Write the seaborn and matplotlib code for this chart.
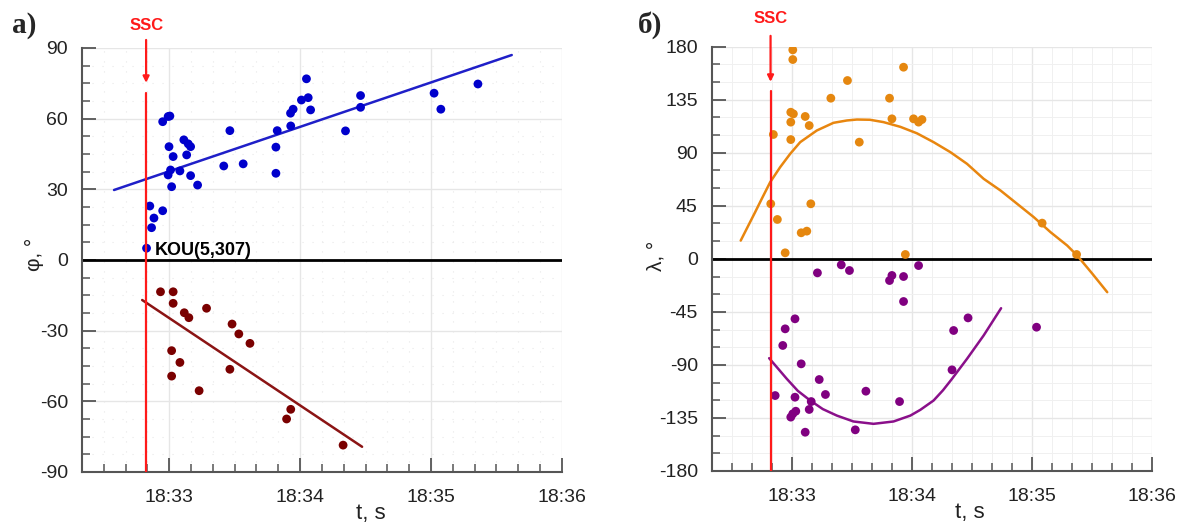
import numpy as np
import pandas as pd
import seaborn as sns
import matplotlib.pyplot as plt
from matplotlib.ticker import MultipleLocator, FixedLocator, FixedFormatter

# time in seconds after 18:32:00
tick_pos = [60, 120, 180, 240]
tick_lbl = ['18:33', '18:34', '18:35', '18:36']
ssc_t = 49.4

# a) latitude phi
t_north = [49.6, 51.1, 53.0, 51.9, 57.0, 57.0, 59.5, 60.3, 59.9, 59.5, 60.6, 61.1, 61.8,
           64.9, 66.7, 68.0, 68.7, 69.8, 69.8, 73.0, 85.0, 87.8, 93.9, 108.9, 108.9,
           109.5, 115.7, 115.6, 116.8, 120.6, 123.7, 122.9, 124.8, 140.8, 147.7, 147.7,
           181.4, 184.5, 201.5]
phi_north = [5, 22.9, 17.8, 13.7, 20.9, 58.7, 60.9, 61.1, 48.1, 36.1, 38.2, 31.1, 43.9,
             37.8, 51.0, 44.6, 49.3, 48.1, 35.8, 31.8, 39.9, 54.9, 40.8, 47.9, 36.8,
             54.9, 56.9, 62.3, 64.0, 67.9, 68.9, 76.9, 63.7, 54.8, 69.8, 64.8,
             70.8, 64.0, 74.7]
t_south = [56.0, 61.8, 61.8, 66.9, 69.0, 77.1, 61.1, 64.9, 61.1, 73.7, 88.8, 91.9, 97.0,
           87.8, 113.8, 115.7, 139.7]
phi_south = [-13.5, -13.5, -18.4, -22.4, -24.5, -20.5, -38.5, -43.5, -49.3, -55.5, -27.2,
             -31.4, -35.4, -46.4, -67.5, -63.4, -78.6]
t_fit_north = [34.7, 217.0]
phi_fit_north = [29.7, 87.0]
t_fit_south = [47.6, 148.4]
phi_fit_south = [-17.0, -79.3]

# б) longitude lambda
t_east = [60.5, 60.5, 50.8, 59.5, 60.8, 59.5, 59.5, 66.7, 68.7, 79.5, 87.8, 93.7, 108.8,
          110.0, 115.8, 49.5, 52.8, 69.5, 64.7, 67.5, 56.7, 116.7, 120.8, 123.3, 125.0,
          185.0, 202.2]
lam_east = [177.3, 169.1, 105.5, 124.4, 123.0, 116.0, 101.2, 120.8, 113.1, 136.3, 151.3,
            99.0, 136.3, 118.8, 162.6, 46.7, 33.4, 46.7, 22.1, 23.5, 5.1, 3.7, 118.8,
            116.0, 118.2, 30.3, 3.7]
t_west = [72.8, 84.7, 88.8, 108.8, 110.0, 115.8, 115.8, 123.3, 61.6, 56.7, 55.5, 64.7,
          73.7, 76.8, 51.7, 61.6, 69.7, 68.7, 62.0, 60.5, 59.5, 66.7, 91.7, 97.0, 113.8,
          140.0, 140.8, 148.0, 182.2]
lam_west = [-11.9, -5.1, -9.9, -18.4, -14.1, -15.0, -36.2, -5.7, -50.9, -59.4, -73.5,
            -89.1, -102.4, -115.1, -116.0, -117.4, -121.1, -127.8, -129.3, -131.5, -134.3,
            -147.1, -145.1, -112.3, -121.1, -94.2, -60.8, -50.1, -58.0]
t_fit_east = [34.5, 41.7, 45.0, 49.2, 54.2, 59.2, 64.2, 72.5, 80.8, 87.5, 92.5, 99.0,
              105.8, 114.2, 122.5, 130.8, 139.2, 147.5, 155.8, 164.2, 172.5, 180.8,
              189.2, 197.5, 202.5, 210.0, 217.5]
lam_fit_east = [15.5, 39.6, 50.9, 65.0, 77.8, 89.1, 99.0, 108.9, 115.4, 117.4, 118.2, 118.0,
                116.0, 112.0, 106.5, 99.0, 90.5, 80.6, 67.9, 58.0, 46.7, 35.4,
                22.6, 11.3, 2.8, -12.5, -28.3]
t_fit_west = [48.7, 57.5, 63.0, 69.2, 75.5, 82.5, 90.8, 100.8, 110.8, 119.2, 124.2, 130.8,
              135.5, 140.0, 147.5, 155.8, 164.5]
lam_fit_west = [-84.3, -101.8, -112.0, -120.2, -127.5, -133.0, -138.0, -140.0, -138.0,
                -133.0, -128.1, -120.2, -111.5, -101.8, -84.8, -65.0, -41.9]

sns.set_style('white')
plt.rcParams['font.family'] = ['Liberation Sans', 'DejaVu Sans']
plt.rcParams['axes.unicode_minus'] = False

fig = plt.figure(figsize=(11.81, 5.27), dpi=100)
ax1 = fig.add_axes([0.0694, 0.1044, 0.4064, 0.8046])
ax2 = fig.add_axes([0.6026, 0.1063, 0.3731, 0.8051])


def style_axes(ax, ylim, ymajor, yminor, minor_grid):
    ax.set_xlim(20, 240)
    ax.set_ylim(*ylim)
    ax.xaxis.set_major_locator(FixedLocator(tick_pos))
    ax.xaxis.set_major_formatter(FixedFormatter(tick_lbl))
    ax.xaxis.set_minor_locator(MultipleLocator(10))
    ax.yaxis.set_major_locator(MultipleLocator(ymajor))
    ax.yaxis.set_minor_locator(MultipleLocator(yminor))
    for s in ['top', 'right']:
        ax.spines[s].set_visible(False)
    for s in ['left', 'bottom']:
        ax.spines[s].set_color('#555555')
        ax.spines[s].set_linewidth(1.5)
    ax.tick_params(which='both', bottom=True, left=True, top=False, right=False)
    ax.tick_params(which='major', direction='in', length=10, width=1.3, color='#555555',
                   labelcolor='#222222', labelsize=14)
    ax.tick_params(which='minor', direction='in', length=6, width=1.1, color='#555555')
    ax.tick_params(axis='x', which='major', pad=12)
    ax.tick_params(axis='y', which='major', pad=10)
    ax.grid(True, which='major', color='#e6e6e6', lw=1.0)
    if minor_grid:
        ax.grid(True, which='minor', color='#f0f0f0', lw=0.7)
    else:
        ax.grid(True, which='minor', color='#e8e8e8', lw=0.8, ls=(0, (1, 8)))
    ax.set_axisbelow(True)


style_axes(ax1, (-90, 90), 30, 7.5, False)
style_axes(ax2, (-180, 180), 45, 15, True)

# panel a
ax1.axhline(0, color='black', lw=2, zorder=2)
sns.lineplot(x=t_fit_north, y=phi_fit_north, color='#1f1fc8', lw=1.8, sort=False,
             estimator=None, ax=ax1, zorder=3)
sns.lineplot(x=t_fit_south, y=phi_fit_south, color='#8b1414', lw=1.8, sort=False,
             estimator=None, ax=ax1, zorder=3)
sns.scatterplot(x=t_north, y=phi_north, color='#0000cc', s=40, edgecolor='none', ax=ax1, zorder=4)
sns.scatterplot(x=t_south, y=phi_south, color='#7a0000', s=40, edgecolor='none', ax=ax1, zorder=4)
ax1.axvline(ssc_t, ymin=0, ymax=(70.9 + 90) / 180, color='#ff1a1a', lw=1.6, zorder=5)
ax1.annotate('', xy=(ssc_t, 75.2), xytext=(ssc_t, 93.4), annotation_clip=False,
             arrowprops=dict(arrowstyle='-|>', color='#ff1a1a', lw=1.6, mutation_scale=9,
                             shrinkA=0, shrinkB=0))
ax1.text(ssc_t, 99.5, 'SSC', color='#ff1a1a', fontsize=12, fontweight='bold',
         ha='center', va='center', clip_on=False)
ax1.text(53.4, 2.3, 'KOU(5,307)', color='black', fontsize=13, fontweight='bold',
         ha='left', va='baseline', zorder=6)
ax1.set_xlabel('t, s', fontsize=16, color='#222222')
ax1.xaxis.set_label_coords(0.602, -0.072)
ax1.set_ylabel('φ, °', fontsize=15, color='#222222')
ax1.yaxis.set_label_coords(-0.08, 0.514)

# panel b
ax2.axhline(0, color='black', lw=2, zorder=2)
sns.lineplot(x=t_fit_east, y=lam_fit_east, color='#e8860f', lw=1.8, sort=False,
             estimator=None, ax=ax2, zorder=3)
sns.lineplot(x=t_fit_west, y=lam_fit_west, color='#8a108a', lw=1.8, sort=False,
             estimator=None, ax=ax2, zorder=3)
sns.scatterplot(x=t_east, y=lam_east, color='#e5870f', s=40, edgecolor='none', ax=ax2, zorder=4)
sns.scatterplot(x=t_west, y=lam_west, color='#800080', s=40, edgecolor='none', ax=ax2, zorder=4)
ax2.axvline(ssc_t, ymin=0, ymax=(142.5 + 180) / 360, color='#ff1a1a', lw=1.6, zorder=5)
ax2.annotate('', xy=(ssc_t, 150.2), xytext=(ssc_t, 189.2), annotation_clip=False,
             arrowprops=dict(arrowstyle='-|>', color='#ff1a1a', lw=1.6, mutation_scale=9,
                             shrinkA=0, shrinkB=0))
ax2.text(ssc_t, 203.6, 'SSC', color='#ff1a1a', fontsize=12, fontweight='bold',
         ha='center', va='center', clip_on=False)
ax2.set_xlabel('t, s', fontsize=16, color='#222222')
ax2.xaxis.set_label_coords(0.586, -0.072)
ax2.set_ylabel('λ, °', fontsize=15, color='#222222')
ax2.yaxis.set_label_coords(-0.104, 0.507)

fig.text(0.010, 1 - 12 / 527, 'a)', family='Liberation Serif', fontweight='bold',
         fontsize=21, va='top', ha='left')
fig.text(0.540, 1 - 11 / 527, 'б)', family='Liberation Serif', fontweight='bold',
         fontsize=21, va='top', ha='left')

fig.savefig('out.png', dpi=100)
